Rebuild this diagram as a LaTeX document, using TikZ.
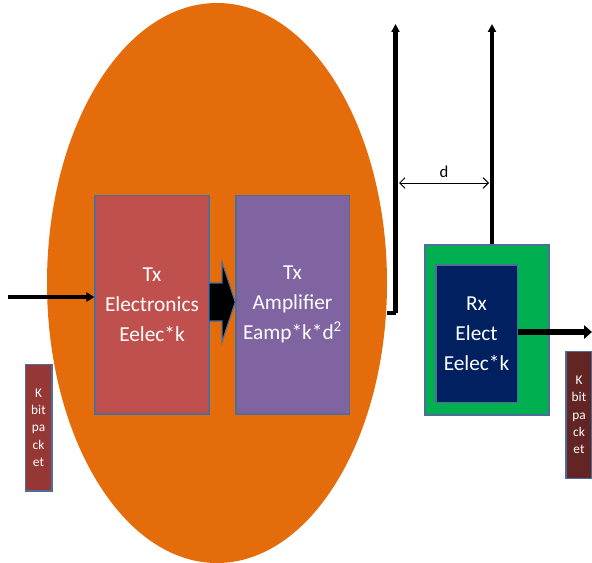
\documentclass[tikz,border=0pt]{standalone}
\usepackage{fontspec}
\setmainfont{Carlito}
\usetikzlibrary{arrows.meta,shapes.geometric}
\definecolor{orangeA}{HTML}{E46C0A}
\definecolor{redA}{HTML}{C0504D}
\definecolor{purpA}{HTML}{8064A2}
\definecolor{greenA}{HTML}{00B050}
\definecolor{navyA}{HTML}{002060}
\definecolor{edgeA}{HTML}{4F6D9A}
\definecolor{pktA}{HTML}{953735}
\definecolor{pktB}{HTML}{632523}
\tikzset{
  blockbox/.style={draw=edgeA, line width=1pt, text=white, align=center,
    font=\fontsize{16}{22.3}\selectfont, inner sep=0pt},
  pktbox/.style={draw=edgeA, line width=1pt, text=white, align=center,
    font=\fontsize{10}{13}\selectfont, inner sep=0pt},
  antenna/.style={line width=3pt, -{Triangle[length=6pt,width=6pt]}},
}
\begin{document}
\begin{tikzpicture}[x=0.75pt,y=-0.75pt]
\useasboundingbox (0,0) rectangle (592,563);
% transmitter enclosure
\fill[orangeA] (217,283) ellipse [x radius=170, y radius=280];
% transmitter blocks
\node[blockbox, fill=redA, minimum width=85.5pt, minimum height=164pt] (txe) at (152,304.5)
  {Tx\\Electronics\\Eelec*k};
\node[blockbox, fill=purpA, minimum width=85pt, minimum height=164pt] (txa) at (292.5,304.5)
  {Tx\\Amplifier\\Eamp*k*d\textsuperscript{2}};
% block arrow between them
\draw[draw=edgeA, fill=black, line width=0.8pt]
  (txe.east |- 0,283) -- (222,283) -- (222,262) -- (txa.west |- 0,302)
  -- (222,342) -- (222,321) -- (txe.east |- 0,321);
% input arrow
\coordinate (in) at (8,297);
\draw[line width=2.5pt, -{Triangle[length=6pt,width=7pt]}] (in) -- (txe.west |- in);
% packets
\node[pktbox, fill=pktA, minimum width=20pt, minimum height=95pt] (pk1) at (38.5,427.5)
  {K\\bit\\pa\\ck\\et};
\node[pktbox, fill=pktB, minimum width=19.5pt, minimum height=95pt] (pk2) at (579,415)
  {K\\bit\\pa\\ck\\et};
% receiver
\node[draw=edgeA, line width=1pt, fill=greenA, minimum width=93pt, minimum height=127.5pt,
  inner sep=0pt] (rxo) at (487,330) {};
\node[blockbox, fill=navyA, minimum width=61pt, minimum height=103pt] (rxi) at (476.5,333.5)
  {Rx\\Elect\\Eelec*k};
% transmit antenna
\coordinate (ta0) at (387,313);
\coordinate (ta1) at (395.5,313);
\coordinate (ta2) at (395.5,24);
\draw[line width=3.5pt] (ta0) -- (ta1);
\draw[antenna, line width=3.5pt] (ta1) -- (ta2);
% receive antenna
\coordinate (ra) at (492,24);
\draw[antenna] (rxo.north -| ra) -- (ra);
% distance d
\coordinate (d0) at (399,183);
\coordinate (d1) at (489,183);
\draw[line width=0.7pt, {Straight Barb[length=4pt,width=8pt]}-{Straight Barb[length=4pt,width=8pt]}] (d0) -- (d1)
  node[midway, above=0pt, font=\fontsize{12.5}{14}\selectfont] (dl) {d};
% output arrow
\coordinate (out) at (592,332);
\draw[line width=4pt, -{Triangle[length=6pt,width=10pt]}] (rxi.east |- out) -- (out);
\end{tikzpicture}
\end{document}
